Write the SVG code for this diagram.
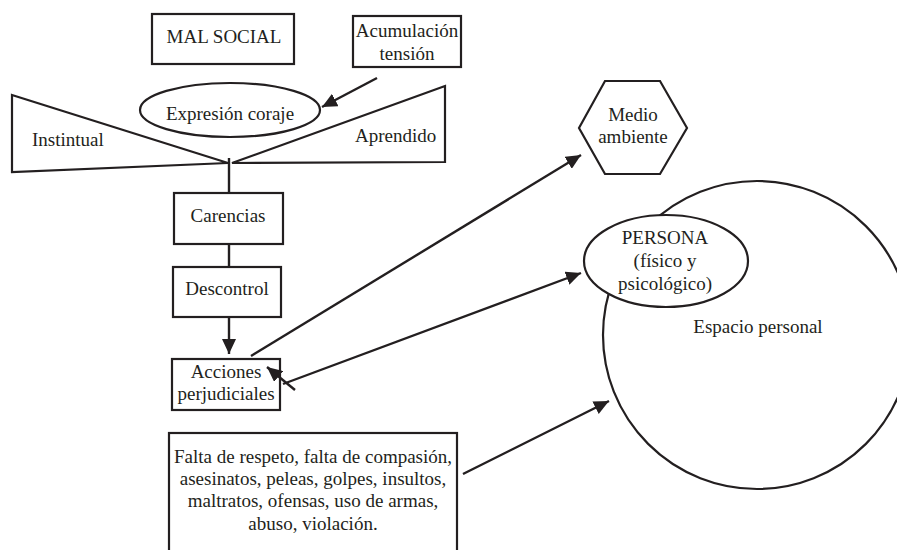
<svg xmlns="http://www.w3.org/2000/svg" width="897" height="550" viewBox="0 0 897 550">
<defs>
<style>
.s{fill:#fff;stroke:#231f20;stroke-width:2.2}
.t{font-family:"Liberation Serif","Times New Roman",serif;font-size:19px;fill:#231f20}
.m{text-anchor:middle}
.c{stroke:#231f20;stroke-width:2.4;fill:none}
</style>
<marker id="ah" markerUnits="userSpaceOnUse" markerWidth="16" markerHeight="14" refX="15" refY="7" orient="auto">
<path d="M0,0 L15,7 L0,14 z" fill="#231f20"/>
</marker>
</defs>
<rect width="897" height="550" fill="#fff"/>

<g id="mal-social">
<rect class="s" x="152" y="14" width="142" height="50"/>
<text class="t m" x="224" y="43">MAL SOCIAL</text>
</g>

<g id="acumulacion">
<rect class="s" x="353" y="16" width="108" height="51"/>
<text class="t m" x="407" y="37">Acumulación</text>
<text class="t m" x="407" y="60">tensión</text>
</g>

<g id="instintual">
<polygon class="s" points="12,95 228,163 12,172"/>
<text class="t" x="32" y="146">Instintual</text>
</g>

<g id="aprendido">
<polygon class="s" points="445,86 232,163 445,162"/>
<text class="t" x="355" y="142">Aprendido</text>
</g>

<g id="expresion">
<ellipse class="s" cx="230" cy="110" rx="90" ry="27"/>
<text class="t m" x="230" y="120">Expresión coraje</text>
</g>

<g id="carencias">
<rect class="s" x="174" y="193" width="109" height="51"/>
<text class="t m" x="228" y="222">Carencias</text>
</g>

<g id="descontrol">
<rect class="s" x="173" y="267" width="108" height="50"/>
<text class="t m" x="227" y="295">Descontrol</text>
</g>

<g id="acciones">
<rect class="s" x="172" y="359" width="108" height="51"/>
<text class="t m" x="226" y="378">Acciones</text>
<text class="t m" x="226" y="400">perjudiciales</text>
</g>

<g id="medio-ambiente">
<polygon class="s" points="605,81 660,81 687,128 660,174 605,174 579,128"/>
<text class="t m" x="633" y="121">Medio</text>
<text class="t m" x="633" y="143">ambiente</text>
</g>

<g id="espacio-personal">
<circle class="s" cx="757" cy="335" r="154"/>
<text class="t m" x="758" y="333">Espacio personal</text>
</g>

<g id="persona">
<ellipse class="s" cx="666" cy="261" rx="82" ry="46"/>
<text class="t m" x="665" y="244">PERSONA</text>
<text class="t m" x="665" y="267">(físico y</text>
<text class="t m" x="665" y="290">psicológico)</text>
</g>

<g id="falta">
<rect class="s" x="169" y="433" width="288" height="120"/>
<text class="t m" x="313" y="463">Falta de respeto, falta de compasión,</text>
<text class="t m" x="313" y="485">asesinatos, peleas, golpes, insultos,</text>
<text class="t m" x="313" y="507">maltratos, ofensas, uso de armas,</text>
<text class="t m" x="313" y="530">abuso, violación.</text>
</g>

<g id="connectors">
<line class="c" x1="377" y1="78" x2="322" y2="107" marker-end="url(#ah)"/>
<line class="c" x1="229" y1="158" x2="229" y2="193"/>
<line class="c" x1="229" y1="244" x2="229" y2="267"/>
<line class="c" x1="229" y1="317" x2="229" y2="354" marker-end="url(#ah)"/>
<line class="c" x1="251" y1="356" x2="581" y2="155" marker-end="url(#ah)"/>
<line class="c" x1="283" y1="384" x2="581" y2="273" marker-end="url(#ah)"/>
<line class="c" x1="295" y1="390" x2="267" y2="367" marker-end="url(#ah)"/>
<line class="c" x1="463" y1="474" x2="609" y2="401" marker-end="url(#ah)"/>
</g>
</svg>
